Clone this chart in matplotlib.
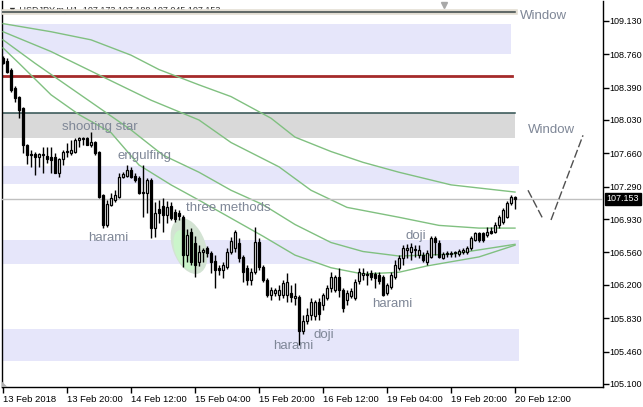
import numpy as np
import matplotlib
matplotlib.use("Agg")
import matplotlib.pyplot as plt
from matplotlib.patches import Rectangle, Ellipse, Polygon
from matplotlib.transforms import ScaledTranslation, blended_transform_factory

plt.rcParams['font.family'] = ['Liberation Sans', 'DejaVu Sans']

# ---- USDJPY H1 candles (bar 0 .. 128) ----
opens = [108.72, 108.68, 108.59, 108.39, 108.29, 108.16, 107.75, 107.65, 107.65, 107.62,
         107.64, 107.63, 107.62, 107.62, 107.44, 107.60, 107.68, 107.66, 107.68, 107.81,
         107.83, 107.83, 107.75, 107.79, 107.68, 107.20, 106.86, 107.09, 107.14, 107.17,
         107.40, 107.41, 107.48, 107.41, 107.39, 107.22, 107.22, 107.36, 106.83, 107.04,
         107.08, 106.98, 107.08, 107.01, 107.00, 106.95, 106.53, 106.79, 106.67, 106.45,
         106.57, 106.61, 106.55, 106.47, 106.39, 106.37, 106.40, 106.57, 106.61, 106.67,
         106.51, 106.39, 106.25, 106.34, 106.68, 106.40, 106.25, 106.09, 106.11, 106.09,
         106.09, 106.09, 106.11, 106.05, 106.07, 105.69, 105.80, 105.87, 105.85, 106.01,
         105.98, 106.05, 106.17, 106.14, 106.29, 106.14, 106.03, 106.08, 106.05, 106.24,
         106.31, 106.32, 106.33, 106.32, 106.31, 106.29, 106.11, 106.18, 106.29, 106.39,
         106.50, 106.59, 106.57, 106.59, 106.53, 106.53, 106.45, 106.51, 106.72, 106.67,
         106.50, 106.54, 106.54, 106.55, 106.54, 106.57, 106.57, 106.61, 106.70, 106.78,
         106.78, 106.75, 106.80, 106.79, 106.86, 106.90, 106.95, 107.11, 107.173]

highs = [108.74, 108.72, 108.61, 108.41, 108.30, 108.17, 107.76, 107.70, 107.67, 107.66,
         107.73, 107.73, 107.73, 107.66, 107.61, 107.70, 107.77, 107.81, 107.83, 107.84,
         107.84, 107.84, 107.90, 107.80, 107.69, 107.21, 107.14, 107.22, 107.25, 107.44,
         107.45, 107.53, 107.51, 107.44, 107.41, 107.53, 107.39, 107.39, 107.12, 107.14,
         107.16, 107.13, 107.12, 107.04, 107.03, 106.98, 106.82, 106.83, 106.74, 106.64,
         106.61, 106.63, 106.58, 106.53, 106.42, 106.45, 106.61, 106.73, 106.81, 106.72,
         106.53, 106.42, 106.39, 106.84, 106.72, 106.42, 106.28, 106.18, 106.17, 106.20,
         106.25, 106.33, 106.20, 106.22, 106.09, 105.87, 105.94, 106.05, 106.03, 106.05,
         106.11, 106.20, 106.34, 106.31, 106.39, 106.17, 106.14, 106.17, 106.27, 106.39,
         106.39, 106.35, 106.37, 106.34, 106.34, 106.31, 106.22, 106.34, 106.48, 106.53,
         106.64, 106.65, 106.66, 106.64, 106.64, 106.56, 106.59, 106.74, 106.74, 106.70,
         106.57, 106.58, 106.58, 106.58, 106.60, 106.61, 106.63, 106.74, 106.79, 106.79,
         106.79, 106.84, 106.84, 106.90, 106.98, 107.05, 107.13, 107.20, 107.188]

lows = [108.65, 108.55, 108.34, 108.23, 108.05, 107.66, 107.54, 107.51, 107.42, 107.51,
        107.44, 107.55, 107.44, 107.44, 107.40, 107.53, 107.62, 107.64, 107.66, 107.73,
        107.75, 107.75, 107.73, 107.64, 107.16, 106.83, 106.84, 107.07, 107.12, 107.16,
        107.39, 107.40, 107.39, 107.34, 107.21, 106.95, 107.00, 106.72, 106.73, 106.89,
        106.79, 106.89, 106.92, 106.90, 106.92, 106.40, 106.45, 106.42, 106.29, 106.41,
        106.45, 106.51, 106.33, 106.17, 106.31, 106.28, 106.38, 106.54, 106.57, 106.45,
        106.23, 106.20, 106.20, 106.32, 106.37, 106.23, 106.07, 106.03, 106.08, 106.03,
        106.05, 106.01, 106.01, 105.98, 105.53, 105.65, 105.77, 105.81, 105.81, 105.81,
        105.92, 106.03, 106.12, 106.12, 106.07, 105.90, 105.98, 106.05, 106.03, 106.21,
        106.25, 106.20, 106.25, 106.17, 106.21, 106.08, 106.09, 106.15, 106.27, 106.37,
        106.42, 106.50, 106.48, 106.51, 106.50, 106.45, 106.42, 106.50, 106.53, 106.50,
        106.49, 106.51, 106.51, 106.51, 106.52, 106.54, 106.54, 106.59, 106.69, 106.68,
        106.68, 106.73, 106.77, 106.78, 106.83, 106.87, 106.94, 107.09, 107.045]

closes = [108.66, 108.56, 108.36, 108.27, 108.14, 107.75, 107.64, 107.64, 107.62, 107.65,
          107.65, 107.60, 107.59, 107.44, 107.60, 107.68, 107.69, 107.70, 107.81, 107.83,
          107.82, 107.75, 107.79, 107.66, 107.17, 106.86, 107.10, 107.16, 107.20, 107.40,
          107.43, 107.48, 107.40, 107.36, 107.22, 107.23, 107.36, 106.83, 107.00, 107.00,
          106.98, 107.06, 106.94, 106.93, 106.96, 106.53, 106.75, 106.45, 106.42, 106.57,
          106.59, 106.55, 106.45, 106.37, 106.37, 106.42, 106.57, 106.69, 106.79, 106.50,
          106.34, 106.25, 106.34, 106.68, 106.40, 106.25, 106.09, 106.14, 106.14, 106.14,
          106.22, 106.23, 106.07, 106.08, 105.69, 105.80, 105.86, 106.01, 106.01, 105.88,
          106.09, 106.17, 106.29, 106.29, 106.14, 105.94, 106.11, 106.13, 106.23, 106.34,
          106.33, 106.31, 106.29, 106.28, 106.24, 106.09, 106.20, 106.31, 106.42, 106.50,
          106.61, 106.61, 106.62, 106.60, 106.59, 106.48, 106.55, 106.72, 106.68, 106.51,
          106.54, 106.55, 106.55, 106.56, 106.58, 106.59, 106.61, 106.72, 106.78, 106.70,
          106.70, 106.79, 106.78, 106.86, 106.95, 107.03, 107.11, 107.17, 107.153]

# moving averages (read at a few bars)
ma1_bars = [0, 12, 22, 32, 39, 49, 57, 67, 73, 82, 90, 99, 112, 128]
ma1 = [109.10, 109.01, 108.92, 108.75, 108.59, 108.42, 108.29, 108.05, 107.84, 107.68, 107.56, 107.45, 107.31, 107.23]
ma2_bars = [0, 12, 24, 37, 49, 57, 69, 77, 86, 99, 109, 119, 128]
ma2 = [109.01, 108.79, 108.53, 108.25, 108.03, 107.78, 107.51, 107.25, 107.06, 106.95, 106.86, 106.83, 106.83]
ma3_bars = [0, 8, 20, 32, 40, 49, 57, 65, 73, 82, 90, 99, 112, 128]
ma3 = [108.92, 108.66, 108.29, 107.92, 107.64, 107.45, 107.25, 107.09, 106.87, 106.67, 106.57, 106.52, 106.54, 106.65]
ma4_bars = [0, 4, 12, 19, 27, 34, 42, 49, 57, 65, 73, 82, 90, 99, 106, 119, 128]
ma4 = [108.83, 108.66, 108.31, 108.09, 107.89, 107.53, 107.31, 107.14, 106.94, 106.74, 106.53, 106.39, 106.32, 106.34, 106.41, 106.51, 106.64]

# support / resistance zones
zone_top = [109.10, 107.52, 106.70, 105.71]
zone_bot = [108.76, 107.32, 106.43, 105.36]
zone_end = [127, 129, 129, 129]
gray_top, gray_bot, gray_end = 108.11, 107.83, 128
red_level, red_end = 108.52, 127.25
window_level, window_end = 109.23, 128

# hand drawn trend lines beyond last bar
trend1_x, trend1_y = [131.25, 135], [107.25, 106.93]
trend2_x, trend2_y = [137, 145], [106.92, 107.86]

bid = 107.153
title = "▼ USDJPY.m,H1  107.173 107.188 107.045 107.153"

pattern_labels = ["shooting star", "engulfing", "harami", "three methods",
                  "harami", "doji", "doji", "harami", "Window", "Window"]
label_x = [14.75, 28.75, 21.25, 45.75, 67.5, 77.5, 100.5, 92.25, 129.25, 131.25]
label_y = [107.92, 107.60, 106.69, 107.02, 105.49, 105.61, 106.71, 105.955, 109.15, 107.886]

xtick_bars = [0, 16, 32, 48, 64, 80, 96, 112, 128]
xtick_labels = ["13 Feb 2018", "13 Feb 20:00", "14 Feb 12:00", "15 Feb 04:00", "15 Feb 20:00",
                "16 Feb 12:00", "19 Feb 04:00", "19 Feb 20:00", "20 Feb 12:00"]
ytick_vals = [105.100, 105.460, 105.830, 106.200, 106.560, 106.930,
              107.290, 107.660, 108.030, 108.390, 108.760, 109.130]


fig = plt.figure(figsize=(6.43, 4.07), dpi=100)
ax = fig.add_axes([2/643, 20/407, 601/643, 386/407])
ax.set_xlim(-0.25, 150)
ax.set_ylim(105.066, 109.351)

# zones
for top, bot, end in zip(zone_top, zone_bot, zone_end):
    ax.add_patch(Rectangle((-0.25, bot), end + 0.25, top - bot, fc='#e6e6fa', ec='none', zorder=1))
ax.add_patch(Rectangle((-0.25, gray_bot), gray_end + 0.25, gray_top - gray_bot, fc='#d9d9d9', ec='none', zorder=1))
ax.plot([-0.25, gray_end], [gray_top, gray_top], color='#2f4f4f', lw=1.1, zorder=2)
ax.plot([-0.25, red_end], [red_level, red_level], color='#a52a2a', lw=2, zorder=2)

# ellipse around three methods
t = fig.dpi_scale_trans + ScaledTranslation(46.5, 106.63, ax.transData)
ax.add_patch(Ellipse((0, 0), 0.33, 0.58, angle=20, transform=t, fc='#d3e3d3', ec='none', zorder=2))
ax.add_patch(Ellipse((-0.03, -0.04), 0.22, 0.42, angle=20, transform=t, fc='#cbf5cb', ec='none', zorder=2))

# moving averages
for bx, vals in [(ma1_bars, ma1), (ma2_bars, ma2), (ma3_bars, ma3), (ma4_bars, ma4)]:
    ax.plot(bx, vals, color='#80c080', lw=1, zorder=3)

# bid line
ax.axhline(bid, color='#c0c0c0', lw=1, zorder=3)

# candles
o = np.array(opens); h = np.array(highs); l = np.array(lows); c = np.array(closes)
idx = np.arange(len(o))
up = c >= o
ax.vlines(idx, l, h, color='black', lw=1, zorder=4)
ax.bar(idx[up], (c - o)[up], bottom=o[up], width=0.55, color='white', edgecolor='black', lw=0.9, zorder=5)
ax.bar(idx[~up], (c - o)[~up], bottom=o[~up], width=0.55, color='black', edgecolor='black', lw=0.9, zorder=5)

# trend lines
ax.plot(trend1_x, trend1_y, color='#505050', lw=1, dashes=(6, 2), zorder=3)
ax.plot(trend2_x, trend2_y, color='#505050', lw=1, dashes=(6, 2), zorder=3)

# labels
for txt, x, y in zip(pattern_labels, label_x, label_y):
    ax.text(x, y, txt, fontsize=9.5, color='#7f8797', ha='left', va='baseline', zorder=6)

# title and top window line
ax.text(1.25, 109.251, title, fontsize=6.5, color='#303030', ha='left', va='center', zorder=6)
ax.plot([-0.25, window_end], [window_level, window_level], color='#e2ddd2', lw=4, zorder=7)
ax.plot([-0.25, window_end], [window_level, window_level], color='#3c4848', lw=1.1, zorder=7)

# small markers
tb = blended_transform_factory(ax.transData, ax.transAxes)
ax.plot([110.25], [0.99], marker='v', ms=5, color='#a8a8a8', transform=tb, clip_on=False, zorder=8)
ax.add_patch(Polygon([(0, 0), (0.009, 0), (0, 0.014)], closed=True, transform=ax.transAxes,
                     fc='#b0b0b0', ec='none', zorder=8))

# axes
ax.spines['top'].set_visible(False)
for s in ['left', 'right', 'bottom']:
    ax.spines[s].set_color('black')
    ax.spines[s].set_linewidth(1)
ax.yaxis.tick_right()
ax.set_yticks(ytick_vals)
ax.set_yticklabels(["%.3f" % v for v in ytick_vals])
ax.set_xticks(xtick_bars)
ax.set_xticklabels(xtick_labels)
for lab in ax.get_xticklabels():
    lab.set_ha('left')
ax.tick_params(axis='y', length=4, width=1, pad=0.8, labelsize=6.5, colors='black')
ax.tick_params(axis='x', length=4, width=1, pad=2, labelsize=6.8, colors='black')

# current price box
ty = blended_transform_factory(ax.transAxes, ax.transData)
ax.annotate("107.153", xy=(1, bid), xycoords=ty, xytext=(2.6, 0), textcoords='offset points',
            ha='left', va='center', fontsize=6.5, color='white', annotation_clip=False,
            bbox=dict(boxstyle='square,pad=0.2', fc='black', ec='black'), zorder=9)

fig.savefig("out.png", dpi=100)
